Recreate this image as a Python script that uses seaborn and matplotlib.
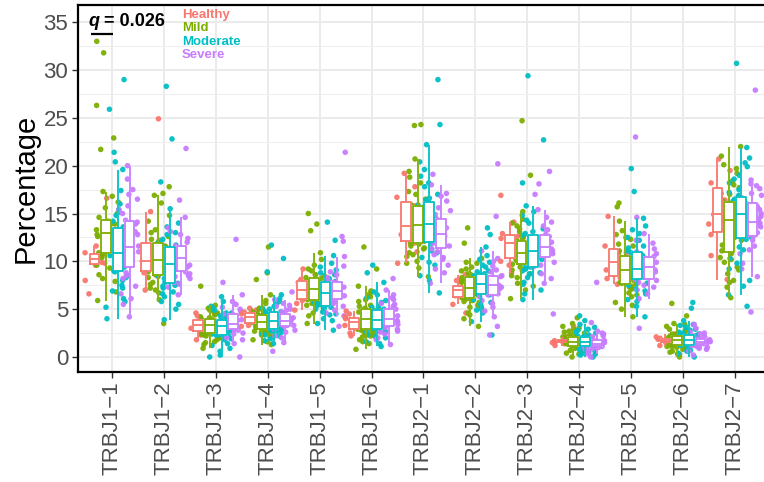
import numpy as np
import pandas as pd
import matplotlib
matplotlib.use("Agg")
import matplotlib.pyplot as plt
from matplotlib.ticker import MultipleLocator
import seaborn as sns

# TRBJ gene segments and patient groups
genes = ["TRBJ1-1", "TRBJ1-2", "TRBJ1-3", "TRBJ1-4", "TRBJ1-5", "TRBJ1-6",
         "TRBJ2-1", "TRBJ2-2", "TRBJ2-3", "TRBJ2-4", "TRBJ2-5", "TRBJ2-6", "TRBJ2-7"]
groups = ["Healthy", "Mild", "Moderate", "Severe"]
palette = ["#F8766D", "#7CAE00", "#00BFC4", "#C77CFF"]

# Per-sample usage (%) of each TRBJ segment, by group
healthy = {
    "TRBJ1-1": [6.6, 8.0, 9.6, 9.9, 10.2, 10.5, 10.9, 11.6, 16.6, 9.8, 10.6],
    "TRBJ1-2": [7.0, 8.4, 8.8, 9.5, 10.0, 11.1, 12.2, 15.2, 24.9, 9.2, 11.6],
    "TRBJ1-3": [1.8, 2.3, 2.6, 3.0, 3.3, 3.6, 4.0, 4.3, 4.6, 2.8, 3.7],
    "TRBJ1-4": [3.2, 3.3, 3.5, 3.9, 4.2, 4.4, 4.7, 4.9, 5.1, 3.7, 4.5],
    "TRBJ1-5": [4.9, 5.6, 5.9, 6.5, 7.0, 7.5, 8.1, 8.6, 9.2, 6.2, 7.8],
    "TRBJ1-6": [2.2, 2.5, 2.8, 3.3, 3.7, 3.9, 4.2, 4.5, 4.8, 3.1, 4.0],
    "TRBJ2-1": [9.8, 11.0, 11.9, 12.8, 13.7, 15.2, 16.7, 17.8, 19.2, 12.3, 15.8],
    "TRBJ2-2": [4.6, 5.5, 6.2, 6.6, 7.0, 7.2, 7.5, 8.0, 8.6, 6.4, 7.3],
    "TRBJ2-3": [8.8, 9.6, 10.0, 11.2, 11.9, 12.4, 12.9, 14.1, 16.9, 10.6, 12.6],
    "TRBJ2-4": [1.2, 1.4, 1.5, 1.6, 1.7, 1.8, 1.85, 2.1, 3.2, 1.55, 1.75],
    "TRBJ2-5": [7.6, 8.2, 8.3, 8.6, 9.9, 10.9, 11.6, 12.5, 14.7, 9.1, 10.3],
    "TRBJ2-6": [1.2, 1.4, 1.5, 1.6, 1.7, 1.8, 1.95, 2.1, 2.4, 1.55, 1.85],
    "TRBJ2-7": [8.1, 10.6, 12.8, 13.9, 14.9, 16.4, 18.2, 19.5, 20.7, 13.3, 17.1],
}
mild = {
    "TRBJ1-1": [5.9, 6.8, 7.9, 8.6, 9.3, 9.9, 10.3, 10.7, 10.9, 11.4, 11.8, 12.1, 12.4, 12.6, 12.8, 12.9,
                13.1, 13.3, 13.5, 13.7, 13.9, 14.0, 14.1, 14.2, 15.0, 16.2, 17.3, 21.7, 22.9, 26.3, 31.8, 33.0,
                8.2, 9.6, 10.4, 11.2, 11.9, 12.5, 13.0, 13.6, 13.9, 14.6, 15.6, 16.8],
    "TRBJ1-2": [3.5, 6.0, 6.7, 7.2, 7.6, 7.9, 8.2, 8.5, 8.6, 8.9, 9.2, 9.4, 9.6, 9.8, 9.9, 10.0,
                10.2, 10.4, 10.6, 10.8, 11.0, 11.3, 11.6, 11.9, 12.0, 12.6, 13.3, 14.2, 16.1, 16.9, 17.1, 17.8,
                7.0, 7.8, 8.3, 8.8, 9.3, 9.7, 10.3, 10.9, 11.5, 12.3, 13.0, 14.8],
    "TRBJ1-3": [0.9, 1.3, 1.6, 1.8, 2.0, 2.2, 2.3, 2.4, 2.5, 2.7, 2.8, 2.9, 3.0, 3.1, 3.2, 3.3,
                3.3, 3.4, 3.5, 3.6, 3.7, 3.8, 3.8, 3.9, 4.0, 4.2, 4.4, 4.6, 4.9, 5.1, 5.4, 7.4,
                1.5, 2.0, 2.3, 2.6, 2.9, 3.2, 3.4, 3.6, 3.8, 4.1, 4.5, 4.8],
    "TRBJ1-4": [1.3, 1.8, 2.1, 2.3, 2.5, 2.6, 2.7, 2.8, 2.9, 3.1, 3.2, 3.3, 3.4, 3.5, 3.6, 3.7,
                3.7, 3.8, 3.9, 4.0, 4.1, 4.2, 4.3, 4.4, 4.5, 4.8, 5.1, 5.6, 6.5, 8.1, 8.8, 11.5,
                1.6, 2.2, 2.6, 3.0, 3.3, 3.6, 3.8, 4.0, 4.3, 4.6, 5.0, 5.9],
    "TRBJ1-5": [3.5, 4.3, 4.8, 5.1, 5.4, 5.6, 5.8, 5.9, 6.0, 6.3, 6.5, 6.7, 6.8, 6.9, 7.0, 7.1,
                7.1, 7.3, 7.4, 7.6, 7.8, 7.9, 8.0, 8.2, 8.3, 8.6, 9.0, 9.6, 10.9, 13.2, 13.9, 15.0,
                4.6, 5.2, 5.7, 6.2, 6.6, 6.9, 7.2, 7.5, 8.1, 8.5, 9.2, 10.2],
    "TRBJ1-6": [0.8, 1.4, 1.8, 2.1, 2.3, 2.5, 2.7, 2.8, 2.9, 3.1, 3.3, 3.5, 3.6, 3.7, 3.8, 3.9,
                4.1, 4.2, 4.3, 4.5, 4.6, 4.7, 4.9, 5.0, 5.1, 5.4, 5.8, 6.3, 6.9, 7.4, 9.2, 11.5,
                1.6, 2.2, 2.6, 3.0, 3.4, 3.8, 4.0, 4.4, 4.8, 5.3, 6.0, 6.6],
    "TRBJ2-1": [8.4, 9.3, 10.0, 10.5, 10.9, 11.3, 11.6, 11.8, 11.9, 12.3, 12.6, 12.9, 13.2, 13.4, 13.6, 13.7,
                13.9, 14.1, 14.4, 14.7, 15.0, 15.2, 15.5, 15.7, 15.9, 16.5, 17.3, 18.2, 19.4, 20.7, 24.2, 24.3,
                9.8, 10.7, 11.4, 12.1, 12.8, 13.5, 14.0, 14.8, 15.4, 16.2, 17.0, 18.8],
    "TRBJ2-2": [3.2, 4.0, 4.6, 5.0, 5.4, 5.7, 5.9, 6.1, 6.2, 6.4, 6.6, 6.8, 6.9, 7.0, 7.1, 7.2,
                7.4, 7.5, 7.6, 7.7, 7.9, 8.0, 8.2, 8.3, 8.4, 8.7, 9.0, 9.4, 9.8, 10.3, 11.9, 13.5,
                4.4, 5.2, 5.8, 6.3, 6.7, 7.0, 7.3, 7.8, 8.1, 8.6, 9.2, 9.9],
    "TRBJ2-3": [6.1, 7.0, 7.7, 8.3, 8.7, 9.1, 9.4, 9.6, 9.7, 9.9, 10.1, 10.3, 10.5, 10.6, 10.7, 10.8,
                11.0, 11.1, 11.3, 11.5, 11.6, 11.8, 11.9, 12.1, 12.2, 12.6, 13.1, 13.7, 14.4, 15.2, 19.0, 24.7,
                7.4, 8.5, 9.2, 9.8, 10.2, 10.7, 11.2, 11.5, 12.0, 12.4, 13.4, 14.0],
    "TRBJ2-4": [0.0, 0.3, 0.5, 0.7, 0.8, 0.9, 1.0, 1.1, 1.1, 1.2, 1.3, 1.4, 1.5, 1.5, 1.6, 1.6,
                1.6, 1.7, 1.8, 1.8, 1.9, 2.0, 2.0, 2.1, 2.1, 2.3, 2.5, 2.7, 2.9, 3.2, 3.5, 4.1,
                0.4, 0.7, 0.9, 1.2, 1.4, 1.5, 1.7, 1.8, 2.0, 2.2, 2.6, 3.0],
    "TRBJ2-5": [4.2, 5.0, 5.7, 6.3, 6.7, 7.1, 7.4, 7.6, 7.7, 8.0, 8.3, 8.5, 8.7, 8.8, 8.9, 9.0,
                9.2, 9.4, 9.6, 9.8, 10.0, 10.2, 10.4, 10.5, 10.7, 11.1, 11.6, 12.3, 13.2, 14.2, 15.7, 16.1,
                5.4, 6.5, 7.3, 7.8, 8.4, 8.9, 9.3, 9.9, 10.3, 10.9, 11.8, 12.8],
    "TRBJ2-6": [0.0, 0.3, 0.6, 0.8, 0.9, 1.0, 1.1, 1.2, 1.25, 1.4, 1.5, 1.6, 1.6, 1.7, 1.7, 1.8,
                1.8, 1.9, 1.9, 2.0, 2.0, 2.1, 2.1, 2.2, 2.3, 2.5, 2.7, 2.9, 3.2, 3.5, 4.3, 5.6,
                0.5, 0.8, 1.1, 1.3, 1.5, 1.7, 1.8, 2.0, 2.1, 2.4, 2.8, 3.4],
    "TRBJ2-7": [6.2, 7.3, 8.0, 8.7, 9.4, 9.9, 10.4, 10.8, 11.1, 11.7, 12.2, 12.7, 13.2, 13.6, 13.9, 14.2,
                14.4, 14.6, 14.9, 15.2, 15.4, 15.7, 15.9, 16.1, 16.4, 17.0, 17.7, 18.4, 19.2, 20.1, 21.0, 22.0,
                7.8, 9.1, 10.2, 11.6, 12.5, 13.4, 14.5, 15.1, 15.8, 16.7, 18.0, 19.7],
}
moderate = {
    "TRBJ1-1": [4.0, 5.2, 6.1, 6.9, 7.5, 8.0, 8.5, 8.9, 9.0, 9.4, 9.7, 10.0, 10.3, 10.5, 10.7, 10.8,
                11.0, 11.4, 11.8, 12.2, 12.6, 12.9, 13.2, 13.5, 13.6, 14.8, 16.0, 19.6, 20.4, 21.4, 25.9, 29.0,
                5.8, 7.2, 8.3, 9.2, 10.0, 10.6, 11.2, 12.0, 13.0, 14.2, 15.4, 17.4],
    "TRBJ1-2": [3.9, 5.0, 5.8, 6.3, 6.8, 7.2, 7.5, 7.7, 7.8, 8.2, 8.5, 8.8, 9.1, 9.3, 9.5, 9.6,
                9.8, 10.0, 10.3, 10.6, 10.8, 11.0, 11.3, 11.5, 11.7, 12.3, 13.0, 14.0, 15.5, 18.3, 22.8, 28.3,
                5.5, 6.6, 7.4, 8.0, 8.7, 9.2, 9.9, 10.5, 11.2, 12.0, 12.8, 13.6],
    "TRBJ1-3": [0.0, 0.2, 0.9, 1.4, 1.8, 2.0, 2.2, 2.3, 2.3, 2.5, 2.7, 2.8, 2.9, 3.0, 3.1, 3.2,
                3.2, 3.3, 3.4, 3.5, 3.6, 3.7, 3.8, 3.9, 3.9, 4.1, 4.3, 4.6, 4.9, 5.3, 5.8, 6.3,
                0.6, 1.2, 1.9, 2.4, 2.7, 3.0, 3.3, 3.6, 3.8, 4.2, 4.6, 5.1],
    "TRBJ1-4": [1.4, 1.9, 2.2, 2.4, 2.6, 2.7, 2.8, 2.9, 2.9, 3.1, 3.3, 3.4, 3.5, 3.6, 3.7, 3.8,
                3.8, 3.9, 4.1, 4.2, 4.3, 4.5, 4.6, 4.7, 4.8, 5.0, 5.3, 5.8, 6.5, 8.9, 10.3, 11.7,
                1.7, 2.3, 2.7, 3.0, 3.4, 3.7, 4.0, 4.4, 4.6, 5.1, 5.5, 6.1],
    "TRBJ1-5": [2.8, 3.5, 4.0, 4.4, 4.7, 5.0, 5.2, 5.3, 5.4, 5.7, 5.9, 6.1, 6.3, 6.5, 6.6, 6.7,
                6.7, 6.9, 7.1, 7.2, 7.4, 7.5, 7.7, 7.8, 7.9, 8.2, 8.6, 9.1, 9.8, 10.6, 12.2, 14.1,
                3.8, 4.5, 5.1, 5.5, 6.0, 6.4, 6.8, 7.3, 7.6, 8.0, 8.8, 9.4],
    "TRBJ1-6": [1.1, 1.6, 2.0, 2.3, 2.5, 2.7, 2.8, 2.9, 3.0, 3.2, 3.3, 3.5, 3.6, 3.7, 3.8, 3.9,
                3.9, 4.0, 4.2, 4.3, 4.5, 4.6, 4.8, 4.9, 5.0, 5.3, 5.7, 6.2, 6.8, 7.8, 8.8, 9.6,
                1.4, 2.1, 2.6, 3.1, 3.4, 3.7, 4.1, 4.4, 4.7, 5.2, 5.9, 6.5],
    "TRBJ2-1": [6.7, 8.5, 9.6, 10.4, 10.9, 11.3, 11.6, 11.9, 12.0, 12.4, 12.7, 13.0, 13.3, 13.5, 13.7, 13.8,
                14.0, 14.3, 14.6, 14.9, 15.3, 15.6, 15.9, 16.2, 16.4, 17.0, 17.8, 18.9, 20.4, 22.2, 24.3, 29.0,
                8.0, 9.9, 11.1, 12.2, 12.9, 13.6, 14.2, 15.0, 15.8, 16.6, 18.2, 19.6],
    "TRBJ2-2": [2.3, 3.7, 4.6, 5.2, 5.7, 6.0, 6.3, 6.5, 6.6, 6.8, 7.0, 7.1, 7.2, 7.3, 7.4, 7.5,
                7.7, 7.8, 7.9, 8.1, 8.2, 8.3, 8.5, 8.6, 8.7, 9.0, 9.4, 9.9, 10.6, 11.5, 12.8, 13.5,
                4.9, 5.5, 6.2, 6.7, 7.1, 7.4, 7.9, 8.2, 8.5, 8.9, 9.6, 10.2],
    "TRBJ2-3": [6.0, 7.0, 7.8, 8.3, 8.7, 9.0, 9.2, 9.3, 9.4, 9.8, 10.1, 10.4, 10.6, 10.8, 10.9, 11.0,
                11.2, 11.4, 11.7, 11.9, 12.1, 12.3, 12.5, 12.7, 12.9, 13.4, 14.0, 14.8, 15.8, 18.2, 22.7, 29.4,
                6.6, 7.6, 8.8, 9.5, 10.2, 10.7, 11.3, 11.8, 12.4, 13.1, 14.3, 15.2],
    "TRBJ2-4": [0.0, 0.2, 0.4, 0.6, 0.8, 0.9, 1.0, 1.1, 1.1, 1.2, 1.3, 1.4, 1.5, 1.5, 1.6, 1.6,
                1.6, 1.7, 1.8, 1.8, 1.9, 1.9, 2.0, 2.05, 2.1, 2.3, 2.5, 2.8, 3.1, 3.4, 3.8, 4.3,
                0.3, 0.6, 0.9, 1.2, 1.3, 1.5, 1.7, 1.8, 2.0, 2.2, 2.6, 2.9],
    "TRBJ2-5": [4.2, 5.3, 6.0, 6.6, 7.1, 7.5, 7.8, 8.1, 8.2, 8.4, 8.6, 8.8, 8.9, 9.0, 9.1, 9.2,
                9.3, 9.5, 9.7, 9.9, 10.2, 10.4, 10.7, 10.9, 11.1, 11.6, 12.2, 12.9, 13.7, 14.5, 17.3, 19.7,
                5.8, 6.9, 7.7, 8.3, 8.7, 9.1, 9.6, 10.1, 10.6, 11.4, 12.5, 13.3],
    "TRBJ2-6": [0.0, 0.3, 0.6, 0.8, 1.0, 1.1, 1.2, 1.3, 1.3, 1.4, 1.5, 1.6, 1.7, 1.7, 1.8, 1.8,
                1.8, 1.9, 2.0, 2.0, 2.1, 2.2, 2.2, 2.3, 2.4, 2.6, 2.8, 3.1, 3.4, 3.8, 5.1, 5.7,
                0.4, 0.7, 1.0, 1.4, 1.5, 1.7, 1.9, 2.1, 2.2, 2.5, 2.9, 3.3],
    "TRBJ2-7": [5.3, 6.5, 8.0, 9.2, 10.3, 11.2, 11.8, 12.3, 12.5, 12.9, 13.3, 13.7, 14.1, 14.4, 14.7, 14.8,
                15.0, 15.2, 15.5, 15.8, 16.0, 16.3, 16.5, 16.7, 16.9, 17.5, 18.2, 19.0, 19.9, 20.8, 21.9, 30.7,
                7.4, 9.8, 11.5, 12.7, 13.5, 14.2, 15.1, 15.6, 16.4, 17.2, 18.6, 20.3],
}
severe = {
    "TRBJ1-1": [4.2, 5.5, 6.6, 7.4, 8.2, 8.8, 9.3, 9.8, 10.2, 10.5, 10.8, 11.0, 11.2,
                11.4, 11.9, 12.5, 13.1, 13.7, 14.1, 14.3, 15.0, 15.8, 16.5, 17.5, 18.6, 20.0,
                6.1, 8.5, 9.9, 11.6, 12.8, 13.9, 15.4, 17.0],
    "TRBJ1-2": [6.5, 7.3, 7.8, 8.2, 8.5, 8.7, 8.9, 9.3, 9.6, 9.9, 10.1, 10.2, 10.3,
                10.5, 10.7, 10.9, 11.1, 11.3, 11.5, 11.6, 12.0, 12.8, 13.5, 14.6, 16.4, 21.8,
                7.6, 8.4, 9.4, 10.0, 10.8, 11.4, 12.4, 13.1],
    "TRBJ1-3": [0.0, 1.4, 2.0, 2.4, 2.6, 2.8, 2.9, 3.0, 3.1, 3.2, 3.2, 3.3, 3.3,
                3.4, 3.6, 3.8, 4.0, 4.2, 4.4, 4.5, 4.8, 5.2, 5.8, 6.5, 7.8, 12.3,
                1.8, 2.5, 3.1, 3.5, 3.9, 4.3, 5.0, 5.5],
    "TRBJ1-4": [0.6, 1.5, 2.2, 2.6, 2.9, 3.1, 3.2, 3.3, 3.4, 3.5, 3.6, 3.7, 3.8,
                3.8, 3.9, 4.0, 4.2, 4.3, 4.4, 4.5, 4.7, 5.0, 5.3, 5.6, 6.0, 6.8,
                2.0, 2.8, 3.3, 3.6, 4.1, 4.4, 4.9, 5.4],
    "TRBJ1-5": [3.2, 4.3, 4.9, 5.3, 5.6, 5.8, 6.0, 6.2, 6.4, 6.6, 6.7, 6.8, 6.9,
                6.9, 7.1, 7.3, 7.5, 7.7, 7.8, 7.9, 8.3, 8.9, 10.5, 12.1, 12.6, 21.4,
                4.6, 5.5, 6.3, 6.8, 7.2, 7.6, 8.6, 9.5],
    "TRBJ1-6": [1.3, 2.0, 2.4, 2.7, 2.9, 3.1, 3.2, 3.4, 3.5, 3.7, 3.8, 3.9, 4.0,
                4.0, 4.2, 4.3, 4.5, 4.7, 4.9, 5.0, 5.3, 5.6, 6.0, 6.5, 7.0, 8.2,
                1.8, 2.6, 3.3, 3.8, 4.3, 4.8, 5.5, 6.2],
    "TRBJ2-1": [7.7, 8.8, 9.6, 10.2, 10.7, 11.0, 11.3, 11.6, 11.9, 12.2, 12.5, 12.7, 12.8,
                13.0, 13.2, 13.5, 13.8, 14.1, 14.3, 14.5, 14.9, 15.6, 16.3, 17.1, 18.0, 19.1,
                9.2, 10.4, 11.8, 12.6, 13.4, 14.0, 15.3, 16.8],
    "TRBJ2-2": [2.3, 3.2, 4.2, 5.2, 5.9, 6.3, 6.5, 6.8, 7.0, 7.1, 7.2, 7.4, 7.5,
                7.5, 7.7, 7.8, 8.0, 8.2, 8.4, 8.5, 8.9, 9.5, 10.3, 11.1, 14.7, 20.2,
                4.8, 5.6, 6.6, 7.3, 7.9, 8.3, 9.1, 10.0],
    "TRBJ2-3": [4.5, 7.7, 8.7, 9.4, 9.9, 10.2, 10.4, 10.6, 10.8, 11.0, 11.1, 11.3, 11.4,
                11.6, 11.8, 12.0, 12.2, 12.5, 12.7, 12.8, 13.3, 14.1, 15.4, 17.0, 18.1, 19.4,
                8.2, 9.6, 10.7, 11.2, 11.9, 12.6, 13.7, 14.6],
    "TRBJ2-4": [0.0, 0.3, 0.6, 0.8, 0.9, 1.0, 1.1, 1.2, 1.2, 1.3, 1.3, 1.4, 1.4,
                1.4, 1.5, 1.6, 1.7, 1.7, 1.8, 1.8, 2.0, 2.2, 2.4, 2.7, 3.6, 7.8,
                0.5, 0.9, 1.2, 1.3, 1.5, 1.7, 2.1, 2.5],
    "TRBJ2-5": [3.0, 6.1, 7.0, 7.5, 7.8, 8.0, 8.1, 8.4, 8.7, 8.9, 9.1, 9.2, 9.3,
                9.5, 9.7, 9.9, 10.1, 10.3, 10.4, 10.5, 10.8, 11.3, 11.9, 12.9, 14.6, 23.0,
                6.6, 7.3, 8.5, 9.0, 9.6, 10.2, 11.0, 12.2],
    "TRBJ2-6": [0.2, 0.6, 0.8, 1.0, 1.1, 1.2, 1.35, 1.4, 1.4, 1.5, 1.5, 1.6, 1.6,
                1.6, 1.7, 1.7, 1.8, 1.8, 1.85, 1.85, 2.0, 2.2, 2.4, 2.6, 3.0, 3.4,
                0.9, 1.2, 1.4, 1.5, 1.7, 1.8, 2.1, 2.5],
    "TRBJ2-7": [4.7, 8.4, 9.8, 10.8, 11.6, 12.2, 12.6, 13.0, 13.3, 13.6, 13.8, 14.0, 14.1,
                14.2, 14.4, 14.7, 15.0, 15.4, 15.8, 16.2, 16.6, 17.1, 17.6, 18.1, 18.5, 27.9,
                9.2, 11.2, 12.9, 13.7, 14.6, 15.6, 16.9, 17.9],
}

q_value = "0.026"

# long-format table
rows = []
for grp, table in zip(groups, [healthy, mild, moderate, severe]):
    for gene in genes:
        for v in table[gene]:
            rows.append((gene, grp, v))
df = pd.DataFrame(rows, columns=["gene", "group", "pct"])

sns.set_theme(style="white")
plt.rcParams["font.family"] = ["Liberation Sans", "DejaVu Sans"]

W, H = 764, 482
fig = plt.figure(figsize=(W / 100, H / 100), dpi=100)
ax = fig.add_axes([78 / W, 110 / H, 686 / W, 367 / H])

common = dict(data=df, x="gene", y="pct", hue="group", order=genes,
              hue_order=groups, ax=ax, legend=False)

# jittered samples
np.random.seed(11)
sns.stripplot(**common, palette=palette, dodge=True, jitter=0.9,
              size=4.0, linewidth=0, alpha=0.95)
for coll in ax.collections:
    coll.set_zorder(1)

# white box bodies on top of the points, then coloured outlines
n_lines = len(ax.lines)
n_patches = len(ax.patches)
sns.boxplot(**common, palette={g: "white" for g in groups}, linecolor="white",
            fill=True, width=0.9, gap=0.16, showfliers=False, showcaps=False,
            linewidth=1.2)
for art in ax.patches[n_patches:] + ax.lines[n_lines:]:
    art.set_zorder(2)
n_lines = len(ax.lines)
n_patches = len(ax.patches)
sns.boxplot(**common, palette=palette, fill=False, width=0.9, gap=0.16,
            showfliers=False, showcaps=False, linewidth=1.3)
for art in ax.patches[n_patches:] + ax.lines[n_lines:]:
    art.set_zorder(3)

# axes, grid and ticks
ax.set_xlim(-0.655, 12.56)
ax.set_ylim(-1.57, 36.8)
ax.yaxis.set_major_locator(MultipleLocator(5))
ax.yaxis.set_minor_locator(MultipleLocator(2.5))
ax.set_axisbelow(True)
ax.grid(True, which="major", color="#EBEBEB", lw=1.4)
ax.grid(True, which="minor", axis="y", color="#EFEFEF", lw=0.8)
ax.xaxis.grid(True, which="major", color="#EBEBEB", lw=1.4)

ax.set_xticks(range(len(genes)))
ax.set_xticklabels([g.replace("-", "\u2212") for g in genes], rotation=90,
                   fontsize=16, color="#4D4D4D")
ax.tick_params(axis="y", labelsize=16, labelcolor="#4D4D4D")
ax.tick_params(which="major", bottom=True, left=True, length=4, width=1,
               color="#333333", pad=3)
ax.tick_params(which="minor", length=0)

for side in ["top", "left", "bottom"]:
    ax.spines[side].set_visible(True)
    ax.spines[side].set_color("black")
    ax.spines[side].set_linewidth(1.6)
    ax.spines[side].set_zorder(5)
ax.spines["right"].set_visible(False)

ax.set_xlabel("")
ax.set_ylabel("Percentage", fontsize=21, color="black", labelpad=3)

# significance annotation on the first segment
t1 = ax.text(-0.46, 34.6, "q", fontsize=13, fontweight="bold", fontstyle="italic",
             va="baseline", ha="left", color="black", zorder=6)
ax.annotate(" = " + q_value, xy=(1, 0), xycoords=t1, va="bottom", ha="left",
            fontsize=13, fontweight="bold", color="black", zorder=6)
ax.plot([-0.40, 0.02], [33.8, 33.8], color="black", lw=1.6,
        solid_capstyle="butt", zorder=6)

# text-only group key
key_y = [0.973, 0.937, 0.899, 0.864]
for grp, col, yy in zip(groups, palette, key_y):
    ax.text(0.1516, yy, grp, transform=ax.transAxes, color=col, fontsize=9.5,
            fontweight="bold", va="center", ha="left", zorder=6)

fig.savefig("out.png", dpi=100)
